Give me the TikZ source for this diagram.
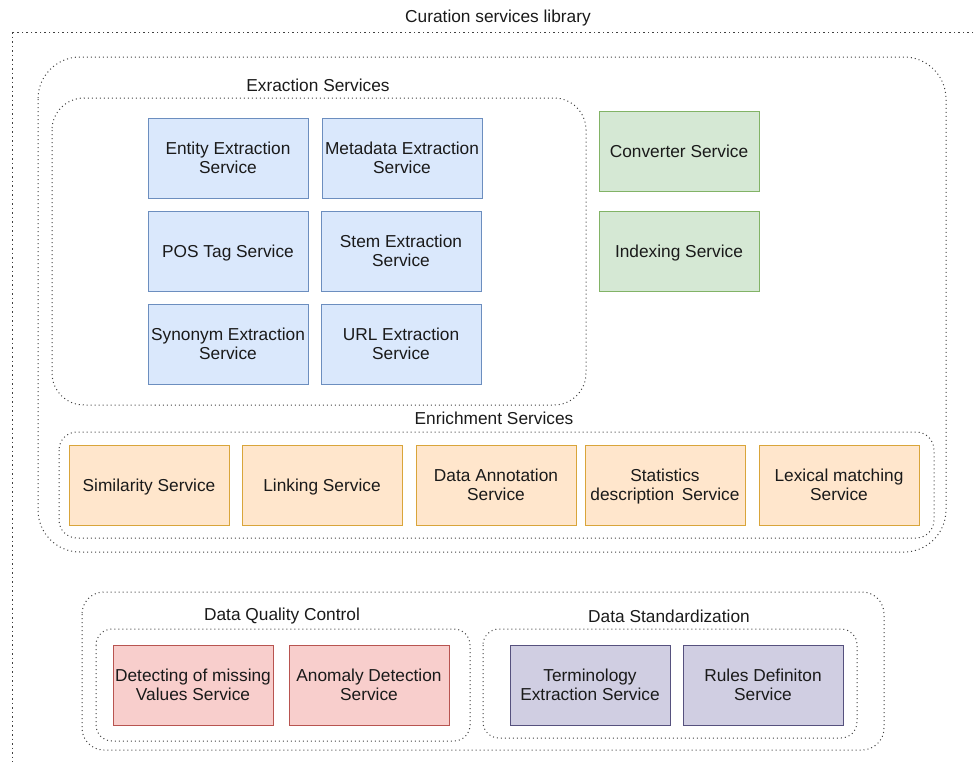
\documentclass[tikz,border=0pt]{standalone}
\usepackage{fontspec}
\setmainfont{Liberation Sans}
\usepackage{xcolor}

\definecolor{blueFill}{HTML}{DAE8FC}
\definecolor{blueLine}{HTML}{6C8EBF}
\definecolor{greenFill}{HTML}{D5E8D4}
\definecolor{greenLine}{HTML}{82B366}
\definecolor{orangeFill}{HTML}{FFE6CC}
\definecolor{orangeLine}{HTML}{D9A53A}
\definecolor{redFill}{HTML}{F8CECC}
\definecolor{redLine}{HTML}{B85450}
\definecolor{purpleFill}{HTML}{D0CEE2}
\definecolor{purpleLine}{HTML}{56517E}
\definecolor{textGray}{HTML}{1A1A1A}

\begin{document}
\begin{tikzpicture}[x=1pt,y=-1pt,
    every node/.style={text=textGray,font=\fontsize{17.3}{19}\selectfont},
    service/.style={rectangle,draw,line width=1pt,minimum width=160pt,minimum height=80pt,align=center,inner sep=1pt,text depth=0pt},
    blue box/.style={service,fill=blueFill,draw=blueLine},
    green box/.style={service,fill=greenFill,draw=greenLine},
    orange box/.style={service,fill=orangeFill,draw=orangeLine},
    red box/.style={service,fill=redFill,draw=redLine},
    purple box/.style={service,fill=purpleFill,draw=purpleLine},
    group/.style={draw=black!75,line width=1pt,dash pattern=on 1pt off 3pt},
    caption/.style={inner sep=0pt}]
    \clip (0,0) rectangle (974,761);

    % containers
    \draw[group,dash pattern=on 1.5pt off 3pt] (12,32) rectangle (990,790);
    \draw[group,rounded corners=42pt] (38,57) rectangle (946,552);
    \draw[group,rounded corners=32pt] (52,98) rectangle (586,405);
    \draw[group,rounded corners=18pt] (59,432) rectangle (934,538);
    \draw[group,rounded corners=22pt] (82,592) rectangle (884,750);
    \draw[group,rounded corners=16pt] (96,629) rectangle (470,741);
    \draw[group,rounded corners=16pt] (483,629) rectangle (857,738);

    % captions
    \node[caption] (lib) at (498,18) {Curation services library};
    \node[caption] (extr) at (318,85) {Exraction Services};
    \node[caption] (enr) at (494,418) {Enrichment Services};
    \node[caption] (dqc) at (282,616) {Data Quality Control};
    \node[caption] (dstd) at (669,616) {Data Standardization};

    % extraction services
    \node[blue box] (entity) at (228,158) {Entity Extraction\\Service};
    \node[blue box] (meta) at (402,158) {Metadata Extraction\\Service};
    \node[blue box] (pos) at (228,251) {POS Tag Service};
    \node[blue box] (stem) at (401,251) {Stem Extraction\\Service};
    \node[blue box] (syn) at (228,344) {Synonym Extraction\\Service};
    \node[blue box] (url) at (401,344) {URL Extraction\\Service};

    \node[green box] (conv) at (679,151) {Converter Service};
    \node[green box] (index) at (679,251) {Indexing Service};

    % enrichment services
    \foreach \name/\x/\txt in
    {sim/149/Similarity Service,link/322/Linking Service,annot/496/{Data Annotation\\Service},
     stat/665/{Statistics\\description\ \,Service},lex/839/{Lexical matching\\Service}}
    \node[orange box] (\name) at (\x,485) {\txt};

    % quality and standardization
    \node[red box] (missing) at (193,685) {Detecting of missing\\Values Service};
    \node[red box] (anomaly) at (369,685) {Anomaly Detection\\Service};
    \node[purple box] (term) at (590,685) {Terminology\\Extraction Service};
    \node[purple box] (rules) at (763,685) {Rules Definiton\\Service};
\end{tikzpicture}
\end{document}
